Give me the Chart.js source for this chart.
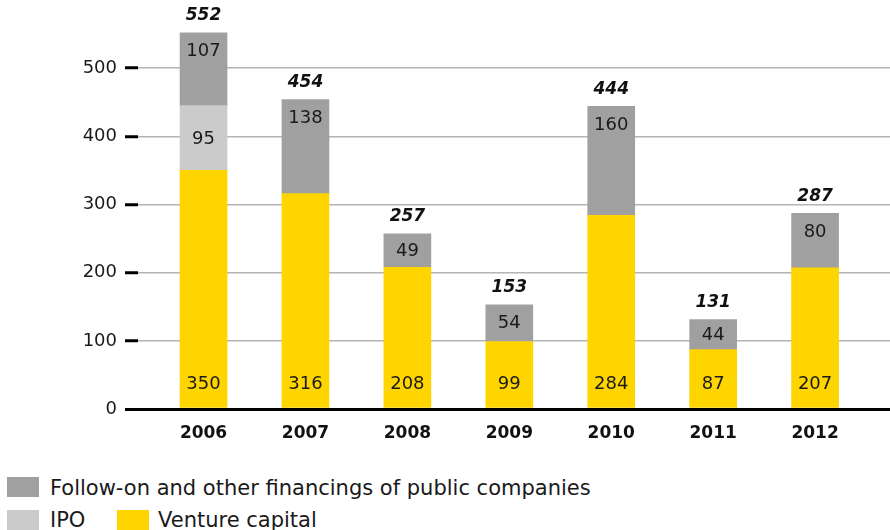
<!DOCTYPE html>
<html>
<head>
<meta charset="utf-8">
<script src="https://cdn.jsdelivr.net/npm/chart.js@4/dist/chart.umd.min.js"></script>
<style>
  html, body { margin: 0; padding: 0; background: #fff; }
  #wrap { position: relative; width: 890px; height: 530px; overflow: hidden; font-family: "DejaVu Sans", sans-serif; color: #1a1a1a; }
  #c { position: absolute; left: 0; top: 0; }
  .leg { position: absolute; font-size: 21px; line-height: 24px; white-space: nowrap; }
  .sw { position: absolute; width: 32px; height: 20px; }
</style>
</head>
<body>
<div id="wrap">
  <canvas id="c" width="890" height="460"></canvas>
  <div class="sw" style="left:7px;top:477px;background:#a0a0a0"></div>
  <div class="leg" style="left:50px;top:476px">Follow-on and other financings of public companies</div>
  <div class="sw" style="left:7px;top:510px;background:#cbcbcb"></div>
  <div class="leg" style="left:50px;top:508px">IPO</div>
  <div class="sw" style="left:117px;top:510px;background:#ffd500"></div>
  <div class="leg" style="left:158px;top:508px">Venture capital</div>
</div>
<script>
// Capital raised by year, split by source
const years = ['2006', '2007', '2008', '2009', '2010', '2011', '2012'];
const ventureCapital = [350, 316, 208, 99, 284, 87, 207];
const ipo = [95, null, null, null, null, null, null];
const followOn = [107, 138, 49, 54, 160, 44, 80];
const yTicks = [0, 100, 200, 300, 400, 500];

const FONT = '"DejaVu Sans", sans-serif';

function points(values) {
  return years.map((yr, i) => ({ x: Number(yr), y: values[i] }));
}

// Segment values and stack totals written on the bars
const barLabels = {
  id: 'barLabels',
  afterDatasetsDraw(chart) {
    const ctx = chart.ctx;
    ctx.save();
    ctx.textAlign = 'center';
    ctx.textBaseline = 'middle';
    const tops = {};
    chart.data.datasets.forEach((ds, di) => {
      const meta = chart.getDatasetMeta(di);
      meta.data.forEach((bar, i) => {
        const v = ds.data[i].y;
        if (v === null || v === undefined) return;
        const top = Math.min(bar.y, bar.base);
        const bottom = Math.max(bar.y, bar.base);
        const mid = (top + bottom) / 2;
        let y;
        if (ds.labelPos === 'bottom') y = bottom - 24;
        else if (ds.labelPos === 'top') y = Math.min(top + 18, mid);
        else y = mid;
        ctx.font = '18px ' + FONT;
        ctx.fillStyle = '#1a1a1a';
        ctx.fillText(String(v), bar.x, y + 1);
        tops[i] = tops[i] === undefined ? top : Math.min(tops[i], top);
      });
    });
    ctx.font = 'italic bold 17px ' + FONT;
    ctx.fillStyle = '#111';
    years.forEach((yr, i) => {
      const total = (ventureCapital[i] || 0) + (ipo[i] || 0) + (followOn[i] || 0);
      const x = chart.scales.x.getPixelForValue(Number(yr));
      ctx.fillText(String(total), x, tops[i] - 17);
    });
    ctx.restore();
  }
};

new Chart(document.getElementById('c'), {
  type: 'bar',
  data: {
    datasets: [
      { label: 'Venture capital', data: points(ventureCapital), backgroundColor: '#ffd500', labelPos: 'bottom' },
      { label: 'IPO', data: points(ipo), backgroundColor: '#cbcbcb', labelPos: 'middle' },
      { label: 'Follow-on and other financings of public companies', data: points(followOn), backgroundColor: '#a0a0a0', labelPos: 'top' }
    ]
  },
  options: {
    responsive: false,
    animation: false,
    layout: { padding: 0 },
    datasets: { bar: { barThickness: 47 } },
    plugins: { legend: { display: false }, tooltip: { enabled: false } },
    scales: {
      x: {
        type: 'linear',
        stacked: true,
        offset: false,
        min: 2005.357,
        max: 2012.735,
        grid: { display: false },
        border: { display: false },
        ticks: {
          stepSize: 1,
          includeBounds: false,
          padding: 6,
          color: '#111',
          font: { family: FONT, size: 17, weight: 'bold' },
          callback: v => years.includes(String(v)) ? String(v) : ''
        },
        afterFit(s) { s.height = 51; s.paddingLeft = 0; s.paddingRight = 0; }
      },
      y: {
        stacked: true,
        min: 0,
        max: 600,
        afterBuildTicks(s) { s.ticks = yTicks.map(v => ({ value: v })); },
        border: { display: false },
        grid: {
          color: c => c.tick && c.tick.value === 0 ? '#000' : '#b4b4b4',
          lineWidth: c => c.tick && c.tick.value === 0 ? 3 : 1.5,
          tickColor: '#000',
          tickWidth: 3,
          tickLength: 13
        },
        ticks: {
          padding: 8,
          color: '#1a1a1a',
          font: { family: FONT, size: 18 }
        },
        afterFit(s) { s.width = 138; s.paddingTop = 0; s.paddingBottom = 0; }
      }
    }
  },
  plugins: [barLabels]
});
</script>
</body>
</html>
